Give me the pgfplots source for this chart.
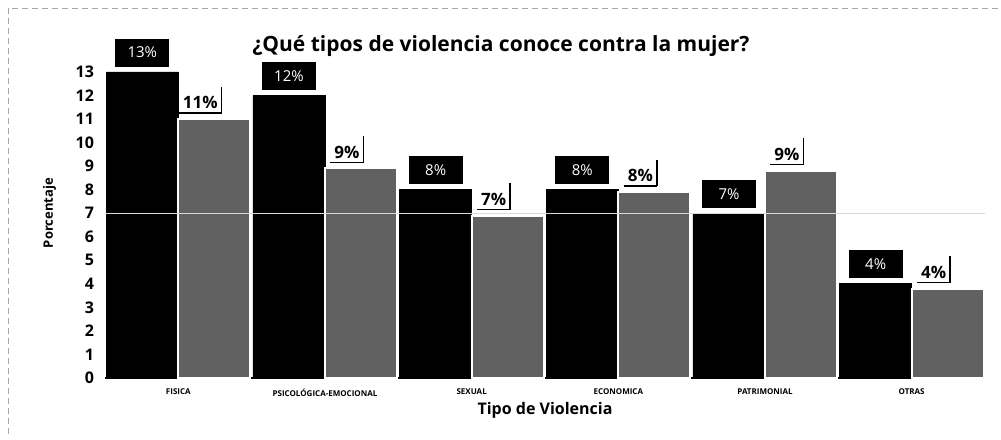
\documentclass[border=0pt]{standalone}
\usepackage{pgfplots}
\pgfplotsset{compat=1.18}
\usepackage{fontspec}
\setmainfont{Open Sans}
\begin{document}
\begin{tikzpicture}
\useasboundingbox (-52.5pt,-30.5pt) rectangle (448pt,189pt);
\draw[gray!70, densely dashed, line width=0.4pt] (-48.5pt,-28pt) -- (-48.5pt,185pt) -- (448pt,185pt);
\begin{axis}[
  at={(0,0)}, anchor=south west,
  scale only axis,
  width=440pt, height=164.8pt,
  ymin=0, ymax=14,
  xmin=-0.5, xmax=5.5,
  ybar=0pt, bar width=36pt,
  axis x line*=bottom, axis y line*=left,
  x axis line style={-, line width=1.4pt},
  y axis line style={draw=none},
  tick style={draw=none},
  xtick={0,1,2,3,4,5},
  xticklabels={FISICA,PSICOLÓGICA-EMOCIONAL,SEXUAL,ECONOMICA,PATRIMONIAL,OTRAS},
  xticklabel style={font=\fontsize{4}{4}\selectfont\bfseries, yshift=2.5pt},
  ytick={0,1,...,13},
  yticklabel style={font=\fontsize{8}{8}\selectfont\bfseries, xshift=-2pt},
  /pgf/number format/assume math mode=true,
  ylabel={Porcentaje},
  ylabel style={font=\fontsize{6.5}{7}\selectfont\bfseries, yshift=3pt},
  xlabel={Tipo de Violencia},
  xlabel style={font=\fontsize{8}{9}\selectfont\bfseries, yshift=4pt},
  title={¿Qué tipos de violencia conoce contra la mujer?},
  title style={font=\fontsize{10.5}{12}\selectfont\bfseries, xshift=-22pt, yshift=-13.5pt},
  clip=false,
  point meta=explicit symbolic,
  nodes near coords,
]
\addplot[fill=black, draw=black,
  every node near coord/.append style={fill=black, text=white, font=\fontsize{7.5}{8}\selectfont,
    minimum width=27pt, minimum height=14pt, inner sep=1pt, anchor=south, yshift=2.5pt}]
  coordinates {(0,13) [13\%] (1,12) [12\%] (2,8) [8\%] (3,8) [8\%] (4,7) [7\%] (5,4) [4\%]};
\addplot[fill=black!62, draw=white, line width=1pt,
  every node near coord/.append style={text=black, font=\fontsize{8.5}{9}\selectfont\bfseries,
    inner sep=1.5pt, anchor=south, xshift=-7pt, yshift=3pt,
    append after command={(\tikzlastnode.south west) edge[draw=black, line width=0.6pt] (\tikzlastnode.south east)
      (\tikzlastnode.south east) edge[draw=black, line width=0.8pt] ([yshift=3pt]\tikzlastnode.north east)}}]
  coordinates {(0,11) [11\%] (1,8.9) [9\%] (2,6.9) [7\%] (3,7.9) [8\%] (4,8.8) [9\%] (5,3.8) [4\%]};
\draw[white!70!gray, line width=0.5pt] (axis cs:-0.5,7) -- (axis cs:5.5,7);
\end{axis}
\end{tikzpicture}
\end{document}
